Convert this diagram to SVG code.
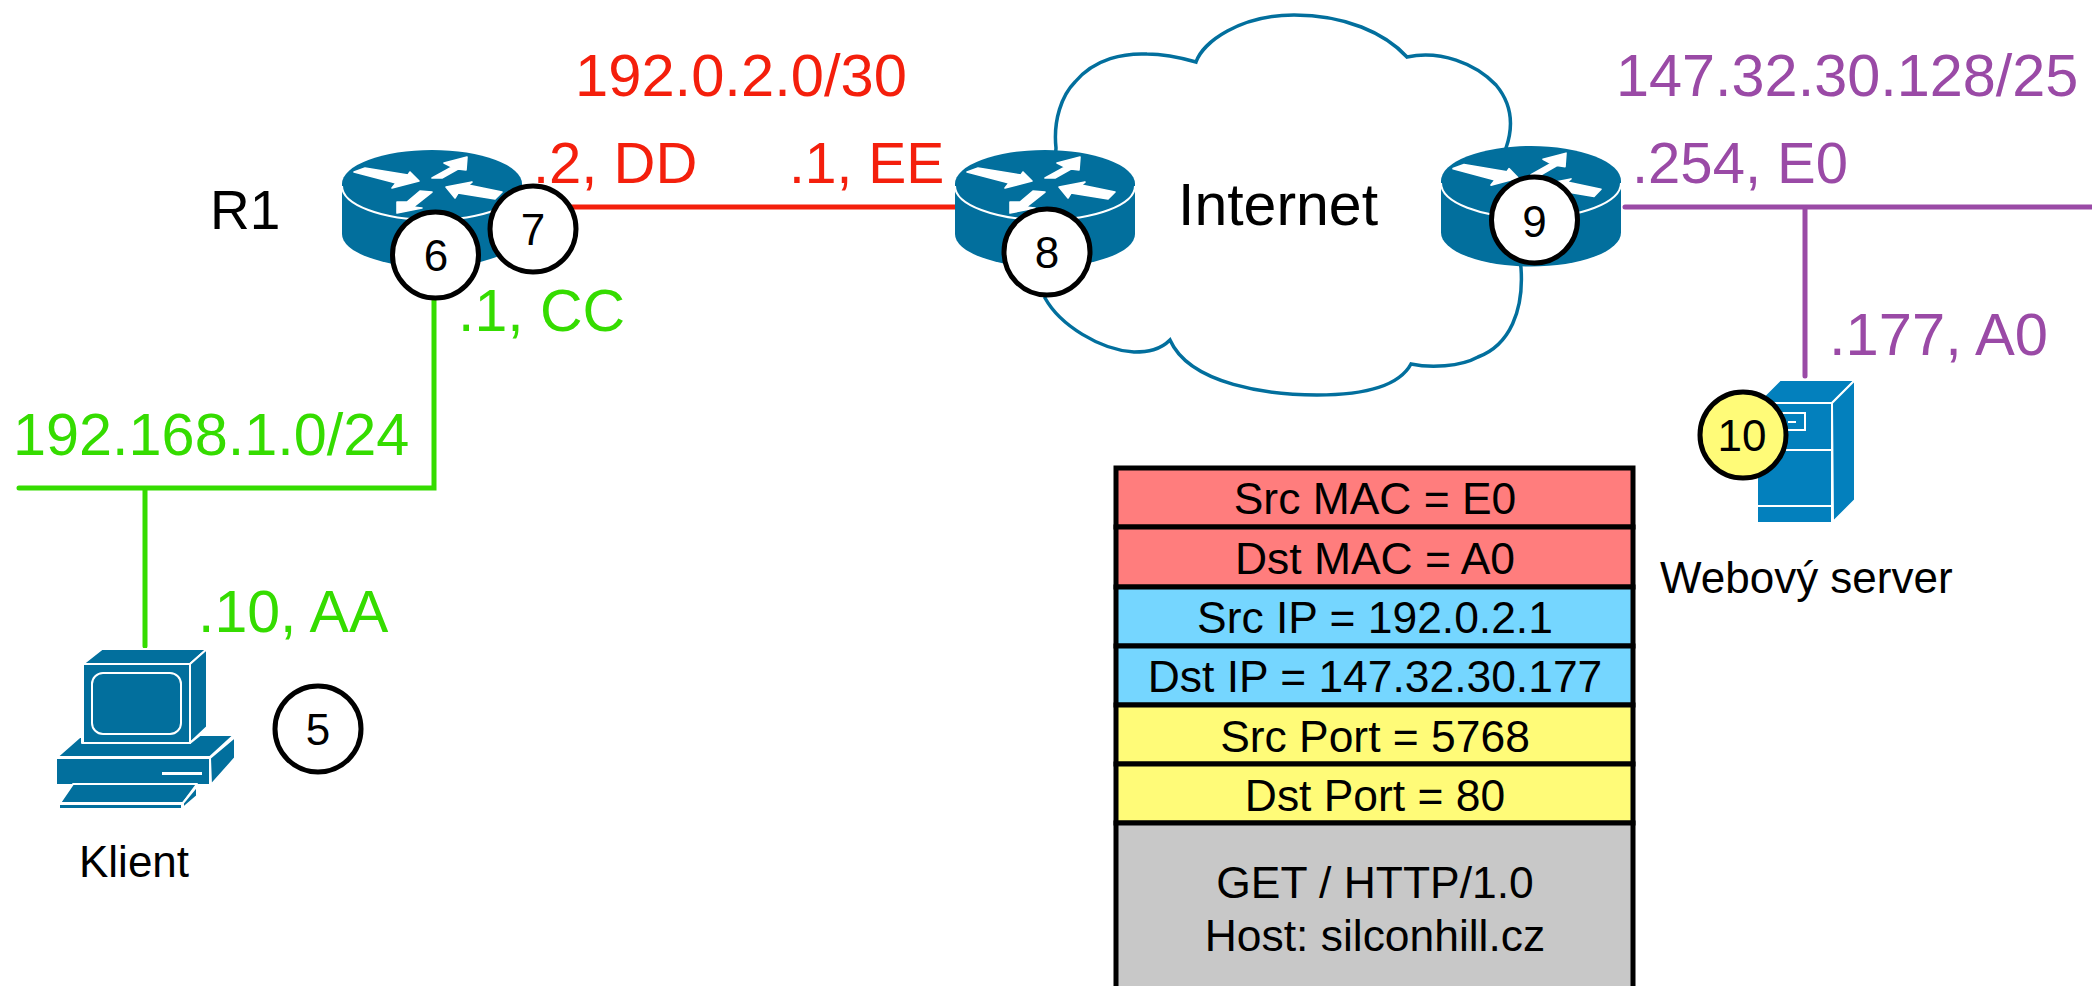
<svg xmlns="http://www.w3.org/2000/svg" xmlns:xlink="http://www.w3.org/1999/xlink" width="2092" height="986" viewBox="0 0 2092 986">
<style>
text{font-family:"Liberation Sans",Arial,Helvetica,sans-serif;fill:#000}
.lbl{font-size:59px}
.red{fill:#f41f0c}.grn{fill:#35dc00}.pur{fill:#9a4aa6}
.cap{font-size:44px}
.num{font-size:44px;text-anchor:middle}
.row{font-size:44.4px;text-anchor:middle}
.badge{fill:#fff;stroke:#000;stroke-width:5}
.cell{stroke:#000;stroke-width:5}
.mac{fill:#ff7d7d}.ip{fill:#75d6ff}.port{fill:#fffb78}.data{fill:#c8c8c8}
.link{fill:none;stroke-width:5;stroke-linecap:round;stroke-linejoin:miter}
.pc{fill:#026f9d;stroke:#fff;stroke-width:2;stroke-linejoin:round}
.sv{fill:#0380bd;stroke:#fff;stroke-width:2;stroke-linejoin:round}
.arr{fill:#fff;stroke:#fff;stroke-width:1.6;stroke-linejoin:round}
</style>
<defs>
<g id="router">
<path d="M-90,0A90,34 0 0 1 90,0V50A90,33 0 0 1 -90,50Z" fill="#026f9d"/>
<path d="M-90,2A90,34 0 0 0 90,2" fill="none" stroke="#fff" stroke-width="2"/>
<path class="arr" d="M-78,-12L-67,-16L-24,-9L-22,-12L-13,-3L-40,4L-36,-1Z"/>
<path class="arr" d="M35,-27L12,-21L20,-17L0,-6L10,-6L26,-15L34,-14Z"/>
<path class="arr" d="M14,3L40,-2L36,1L70,8L63,15L26,9L23,14Z"/>
<path class="arr" d="M-35,29L-35,18L-25,18L-12,7L0,8L-19,23L-10,24Z"/>
</g>
</defs>
<rect width="2092" height="986" fill="#fff"/>

<g id="internet">
<path d="M1056,148C1053,120 1062,95 1075,82C1095,58 1125,53 1147,54C1165,54 1182,58 1196,62C1203,42 1240,15 1294,15C1345,15 1385,33 1407,57C1440,50 1475,63 1496,85C1511,103 1514,125 1506,148L1521,268C1524,310 1510,345 1478,357C1460,367 1430,368 1411,364C1398,388 1360,395 1317,395C1270,395 1190,385 1170,340C1160,350 1148,352 1134,352C1100,350 1060,325 1045,298Z" fill="#fff" stroke="#026f9d" stroke-width="3.5"/>
<text x="1178" y="225" class="lbl">Internet</text>
</g>

<g id="connectors">
<path class="link" stroke="#f41f0c" d="M530,207H955"/>
<path class="link" stroke="#35dc00" d="M434,290V488H19M145,488V646"/>
<path class="link" stroke="#9a4aa6" d="M1625,207H2092M1805,207V376"/>
</g>

<g id="labels">
<text x="575" y="96" class="lbl red" style="font-size:59.7px">192.0.2.0/30</text>
<text x="533" y="183" class="lbl red" style="font-size:58px">.2, DD</text>
<text x="789" y="183" class="lbl red" style="font-size:57px">.1, EE</text>
<text x="458" y="331" class="lbl grn">.1, CC</text>
<text x="13" y="455" class="lbl grn" style="font-size:59.4px">192.168.1.0/24</text>
<text x="198" y="632" class="lbl grn">.10, AA</text>
<text x="1616" y="96" class="lbl pur" style="font-size:59.4px">147.32.30.128/25</text>
<text x="1632" y="183" class="lbl pur" style="font-size:58px">.254, E0</text>
<text x="1829" y="355" class="lbl pur" style="font-size:59.7px">.177, A0</text>
</g>

<g id="r1">
<use xlink:href="#router" href="#router" x="432" y="184"/>
<text x="210" y="229" class="lbl" style="font-size:55px">R1</text>
</g>
<g id="r2"><use xlink:href="#router" href="#router" x="1045" y="184"/></g>
<g id="r3"><use xlink:href="#router" href="#router" transform="translate(1531,181) scale(1,1.03)"/></g>

<g id="klient">
<path class="pc" d="M83,664L102,649H207L190,664Z"/>
<path class="pc" d="M190,664L207,649V727L190,743Z"/>
<path class="pc" d="M82,735L57,757H210L234,735H200L190,743H82Z"/>
<path class="pc" d="M210,758L235,737V758L211,785Z"/>
<rect class="pc" x="56" y="758" width="154" height="27"/>
<rect class="pc" x="83" y="664" width="107" height="79"/>
<rect x="92" y="673" width="89" height="61" rx="11" fill="none" stroke="#fff" stroke-width="2"/>
<rect x="162" y="772" width="40" height="3" fill="#fff"/>
<path class="pc" d="M73,784H197L183,803H60Z"/>
<path class="pc" d="M183,803L197,786V796L183,808Z"/>
<rect class="pc" x="59" y="804" width="123" height="5"/>
<text x="79" y="877" class="cap">Klient</text>
</g>

<g id="server">
<path class="sv" d="M1757,403L1780,380H1855L1832,403Z"/>
<path class="sv" d="M1832,403L1855,380V500L1833,522Z"/>
<rect class="sv" x="1757" y="403" width="75" height="120"/>
<path d="M1757,450H1832M1757,506H1832" stroke="#fff" stroke-width="2" fill="none"/>
<rect x="1770" y="413" width="35" height="17" fill="none" stroke="#fff" stroke-width="2"/>
<path d="M1788,422H1796" stroke="#fff" stroke-width="2"/>
<text x="1660" y="593" class="cap">Webový server</text>
</g>

<g id="badge-5"><circle class="badge" cx="318" cy="729" r="43"/><text x="318" y="745" class="num">5</text></g>
<g id="badge-6"><circle class="badge" cx="435.500" cy="255" r="43"/><text x="436" y="271" class="num">6</text></g>
<g id="badge-7"><circle class="badge" cx="533" cy="229" r="43"/><text x="533" y="245" class="num">7</text></g>
<g id="badge-8"><circle class="badge" cx="1047" cy="252" r="43"/><text x="1047" y="268" class="num">8</text></g>
<g id="badge-9"><circle class="badge" cx="1534.500" cy="220" r="43"/><text x="1534.500" y="237" class="num">9</text></g>
<g id="badge-10"><circle class="badge" cx="1743" cy="435" r="43" style="fill:#fffb78"/><text x="1742" y="451" class="num">10</text></g>

<g id="packet">
<rect class="cell mac" x="1116" y="468" width="517" height="59"/>
<rect class="cell mac" x="1116" y="527" width="517" height="60"/>
<rect class="cell ip" x="1116" y="587" width="517" height="59"/>
<rect class="cell ip" x="1116" y="646" width="517" height="59"/>
<rect class="cell port" x="1116" y="705" width="517" height="59"/>
<rect class="cell port" x="1116" y="764" width="517" height="59"/>
<rect class="cell data" x="1116" y="823" width="517" height="180"/>
<text x="1375" y="514" class="row">Src MAC = E0</text>
<text x="1375" y="574" class="row">Dst MAC = A0</text>
<text x="1375" y="633" class="row">Src IP = 192.0.2.1</text>
<text x="1375" y="692" class="row">Dst IP = 147.32.30.177</text>
<text x="1375" y="752" class="row">Src Port = 5768</text>
<text x="1375" y="811" class="row">Dst Port = 80</text>
<text x="1375" y="898" class="row">GET / HTTP/1.0</text>
<text x="1375" y="951" class="row">Host: silconhill.cz</text>
</g>
</svg>
